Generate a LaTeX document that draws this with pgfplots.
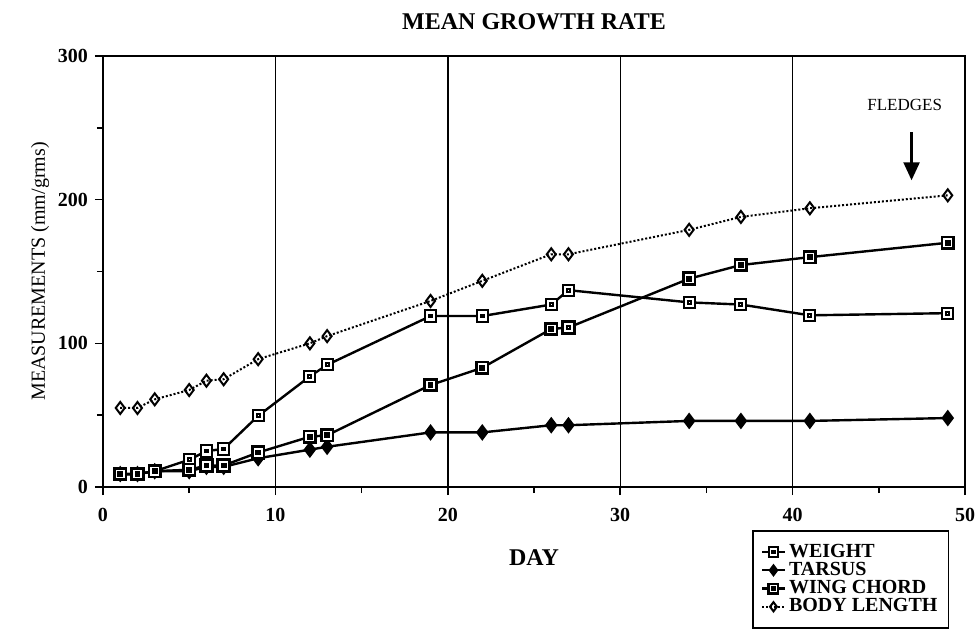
\documentclass[border=0pt]{standalone}
\usepackage{pgfplots}
\pgfplotsset{compat=1.18}
\usepackage{fontspec}
\setmainfont{Liberation Serif}
\usetikzlibrary{arrows.meta}

% open square with a small square in the middle
\pgfdeclareplotmark{sqdot}{%
  \pgfpathrectangle{\pgfpoint{-\pgfplotmarksize}{-\pgfplotmarksize}}{\pgfpoint{2\pgfplotmarksize}{2\pgfplotmarksize}}%
  \pgfusepathqfillstroke
  \pgfpathrectangle{\pgfpoint{-0.25\pgfplotmarksize}{-0.25\pgfplotmarksize}}{\pgfpoint{0.5\pgfplotmarksize}{0.5\pgfplotmarksize}}%
  \pgfusepathqstroke}

\pgfplotstableread{
day weight tarsus wing body
1   9     9   9    55
2   9     9   9    55
3   11    11  11   61
5   19    11  12   67.5
6   25    14  15   74
7   26.5  14  15   75
9   49.5  20  24   89
12  77    26  35   100
13  85    28  36   105
19  119   38  71   129.5
22  119   38  83   143.5
26  127   43  110  162
27  137   43  111  162
34  128.5 46  145  179
37  127   46  154.5 188
41  119.5 46  160  194
49  121   48  170  203
}\growth

\begin{document}
\begin{tikzpicture}
\useasboundingbox (-51.5pt,-74.5pt) rectangle (437.5pt,243.5pt);
\begin{axis}[
  at={(0,0)}, anchor=south west,
  scale only axis, width=431pt, height=215.5pt,
  xmin=0, xmax=50, ymin=0, ymax=300,
  xtick={0,10,...,50}, minor xtick={5,15,...,45},
  ytick={0,100,200,300}, minor ytick={50,150,250},
  tick pos=left, tick align=outside,
  major tick length=4pt, minor tick length=3pt,
  every tick/.style={black, line width=0.8pt},
  xmajorgrids, major grid style={black, line width=0.7pt},
  axis line style={line width=1.3pt},
  ticklabel style={font=\fontsize{10}{12}\selectfont\bfseries},
  xticklabel style={yshift=-3pt},
  /pgf/number format/assume math mode=true,
  title={MEAN GROWTH RATE},
  title style={font=\fontsize{12}{14}\selectfont\bfseries, at={(0.5,1)}, anchor=center, yshift=11pt},
  xlabel={DAY},
  xlabel style={font=\fontsize{12}{14}\selectfont\bfseries, at={(axis description cs:0.5,-0.163)}, anchor=center},
  ylabel={MEASUREMENTS (mm/grms)},
  ylabel style={font=\fontsize{10}{12}\selectfont, at={(axis description cs:-0.073,0.5)}, anchor=center, rotate=0},
  legend cell align=left,
  legend image code/.code={\draw[#1, mark repeat=2, mark phase=2, mark size=2.3pt] plot coordinates {(0cm,0cm) (0.2cm,0cm) (0.4cm,0cm)};},
  legend style={at={(rel axis cs:0.7529,-0.0998)}, anchor=north west,
    draw=black, line width=0.9pt, font=\fontsize{10}{9}\selectfont\bfseries,
    inner xsep=4pt, inner ysep=5pt, row sep=-2pt,
    nodes={inner sep=1.5pt}},
]
\addplot[black, line width=1.2pt, mark=sqdot, mark size=2.8pt, mark options={solid, fill=white, line width=1pt}]
  table[x=day, y=weight] {\growth};
\addplot[black, line width=1.2pt, mark=diamond*, mark size=3.2pt, mark options={solid}]
  table[x=day, y=tarsus] {\growth};
\addplot[black, line width=1.2pt, mark=sqdot, mark size=2.9pt, mark options={solid, fill=white, line width=1.4pt}]
  table[x=day, y=wing] {\growth};
\addplot[black, line width=1pt, densely dotted, mark=diamond, mark size=3pt, mark options={solid, fill=white, line width=1pt}]
  table[x=day, y=body] {\growth};
\legend{WEIGHT, TARSUS, WING CHORD, BODY LENGTH}
\node[font=\fontsize{8.5}{10}\selectfont] at (axis cs:46.5,266) {FLEDGES};
\draw[line width=1.2pt, -{Triangle[length=9pt, width=8pt]}] (axis cs:46.9,247) -- (axis cs:46.9,213.5);
\end{axis}
\end{tikzpicture}
\end{document}
